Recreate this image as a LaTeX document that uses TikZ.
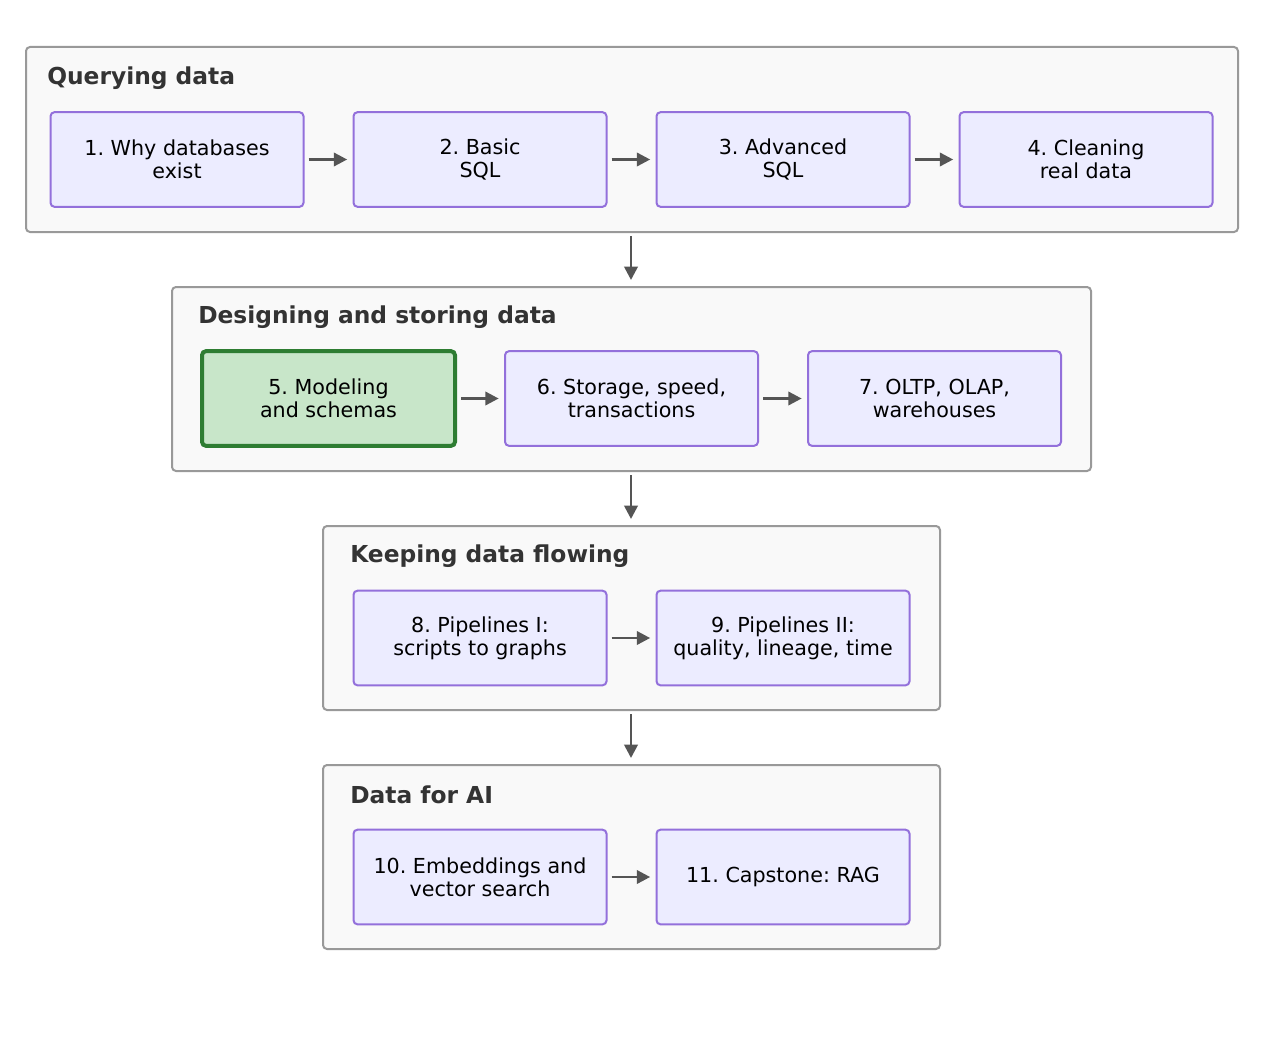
\documentclass[tikz,border=0pt]{standalone}
\usepackage{fontspec}
\setmainfont{DejaVu Sans}
\usetikzlibrary{arrows.meta}
\definecolor{grpfill}{HTML}{F9F9F9}
\definecolor{grpline}{HTML}{999999}
\definecolor{nfill}{HTML}{ECECFF}
\definecolor{nline}{HTML}{9370DB}
\definecolor{gfill}{HTML}{C8E6C9}
\definecolor{gline}{HTML}{2E7D32}
\definecolor{arr}{HTML}{555555}
\definecolor{ttl}{HTML}{333333}
\frenchspacing
\begin{document}
\begin{tikzpicture}[x=0.75pt,y=-0.75pt,
  grp/.style={draw=grpline,fill=grpfill,line width=1.5pt,rounded corners=3pt},
  ttl/.style={anchor=west,font=\fontsize{17.5}{20}\selectfont\bfseries,text=ttl,inner sep=0pt},
  nd/.style={draw=nline,fill=nfill,line width=1.5pt,rounded corners=3pt,minimum width=189.75pt,minimum height=71pt,align=center,font=\fontsize{15.5}{17.5}\selectfont,inner sep=0pt},
  hl/.style={nd,draw=gline,fill=gfill,line width=3pt},
  ar/.style={-{Triangle[length=10pt,width=10pt]},draw=arr,line width=2pt}]
\useasboundingbox (0,0) rectangle (1263,1045);
\draw[grp] (26,47) rectangle (1238,232);
\draw[grp] (172,287) rectangle (1091,471);
\draw[grp] (323,526) rectangle (940,710);
\draw[grp] (323,765) rectangle (940,949);
\node[ttl] (t1) at (47,78) {Querying data};
\node[ttl] (t2) at (198,317) {Designing and storing data};
\node[ttl] (t3) at (350,556) {Keeping data flowing};
\node[ttl] (t4) at (350,795) {Data for AI};
\node[nd] (n1) at (177,159.5) {1. Why databases\\exist};
\node[nd] (n2) at (480,159.5) {2. Basic\\SQL};
\node[nd] (n3) at (783,159.5) {3. Advanced\\SQL};
\node[nd] (n4) at (1086,159.5) {4. Cleaning\\real data};
\node[hl] (n5) at (328.5,398.5) {5. Modeling\\and schemas};
\node[nd] (n6) at (631.5,398.5) {6. Storage, speed,\\transactions};
\node[nd] (n7) at (934.5,398.5) {7. OLTP, OLAP,\\warehouses};
\node[nd] (n8) at (480,638) {8. Pipelines I:\\scripts to graphs};
\node[nd] (n9) at (783,638) {9. Pipelines II:\\quality, lineage, time};
\node[nd] (n10) at (480,877) {10. Embeddings and\\vector search};
\node[nd] (n11) at (783,877) {11. Capstone: RAG};
\foreach \a/\b in {n1/n2,n2/n3,n3/n4,n5/n6,n6/n7,n8/n9,n10/n11}
  \draw[ar,shorten <=3pt,shorten >=4pt] (\a) -- (\b);
\coordinate (a1) at (631,236); \coordinate (b1) at (631,280);
\coordinate (a2) at (631,475); \coordinate (b2) at (631,519);
\coordinate (a3) at (631,714); \coordinate (b3) at (631,758);
\draw[ar] (a1) -- (b1);
\draw[ar] (a2) -- (b2);
\draw[ar] (a3) -- (b3);
\end{tikzpicture}
\end{document}
